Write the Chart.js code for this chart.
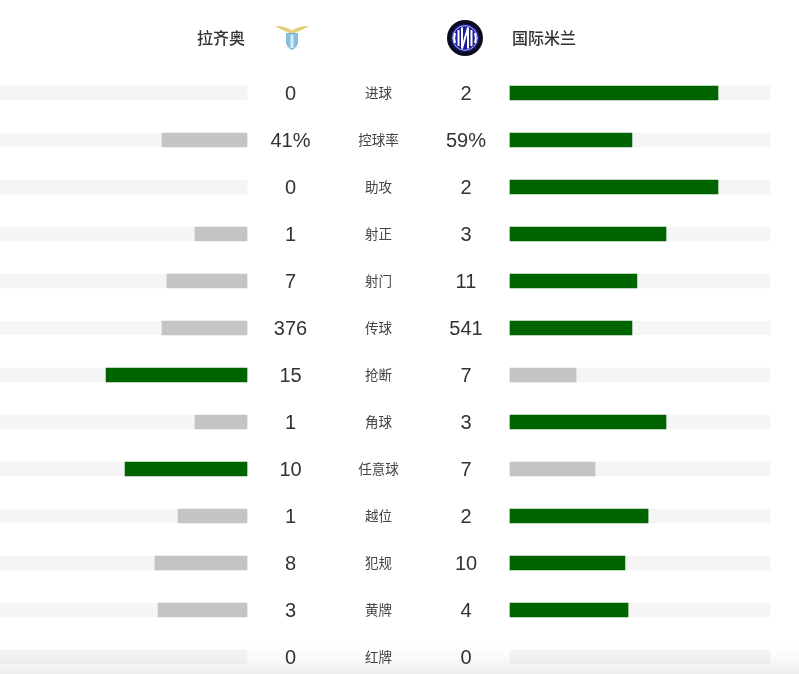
<!DOCTYPE html>
<html><head><meta charset="utf-8">
<script src="https://cdn.jsdelivr.net/npm/chart.js@4"></script>
<style>
html,body{margin:0;padding:0;background:#fff;overflow:hidden;width:799px;height:674px}
#wrap{position:relative;width:799px;height:674px;overflow:hidden;background:#fff}
#wrap canvas{position:absolute;left:0;top:0}
.logo{position:absolute}
#fade{position:absolute;left:0;right:0;bottom:0;height:28px;background:linear-gradient(to bottom,#fff,#fafafa 45%,#ededed);mix-blend-mode:multiply;pointer-events:none}
</style></head><body>
<div id="wrap">
<div style="position:absolute;left:0;top:0;width:799px;height:700px"><canvas id="c" width="799" height="700"></canvas></div>
<svg class="logo" style="left:272px;top:22px" width="40" height="32" viewBox="0 0 40 32">
<path d="M3 4C9 3.500 15 5 20 8.500 25 5 31 3.500 37 4 33 6.500 28 9 23.500 10.500L20 12.500 16.500 10.500C12 9 7 6.500 3 4Z" fill="#e6cf7c"/>
<path d="M14.500 11.500H25.500V20C25.500 23.500 23 26 20 27.500 17 26 14.500 23.500 14.500 20Z" fill="#86c0e4" stroke="#5f9fc9" stroke-width=".7"/>
<path d="M18.500 12.500H21.500V26H18.500Z" fill="#d8ebf6"/>
</svg>
<svg class="logo" style="left:447px;top:20px" width="36" height="36" viewBox="0 0 36 36">
<circle cx="18" cy="18" r="18" fill="#0b0b1c"/>
<circle cx="18" cy="18" r="14" fill="#1c1c96"/>
<ellipse cx="18" cy="18" rx="12.300" ry="12.300" fill="none" stroke="#d8d8ee" stroke-width=".8"/>
<path d="M8 13C7 16 7 20 8 23M28 13C29 16 29 20 28 23M11.500 10V26M24.500 10V26M15 7.500V28.500L21 7.500V28.500" fill="none" stroke="#fff" stroke-width="2"/>
</svg>
<div id="fade"></div>
</div>
<script>
const categories=['进球','控球率','助攻','射正','射门','传球','抢断','角球','任意球','越位','犯规','黄牌','红牌'];
const homeLabels=['0','41%','0','1','7','376','15','1','10','1','8','3','0'];
const awayLabels=['2','59%','2','3','11','541','7','3','7','2','10','4','0'];
const homeBars=[null,32.7,null,20,30.8,32.7,54.2,20,46.9,26.5,35.4,34.2,null];
const awayBars=[80,46.9,80,60,48.8,46.9,25.4,60,32.7,53.1,44.2,45.4,null];
const trackValues=[100,100,100,100,100,100,100,100,100,100,100,100,100];
const homeTeam='拉齐奥', awayTeam='国际米兰';
const GREEN='#006400', GREY='#c4c4c4', TRACK='#f5f5f5';
const isHomeLead=homeBars.map((v,i)=>(v||0)>(awayBars[i]||0));
const homeColors=isHomeLead.map(l=>l?GREEN:GREY);
const awayColors=isHomeLead.map(l=>l?GREY:GREEN);
const PX=2.6, W=799, ZERO_H=247, ZERO_A=510;
const textPlugin={id:'rowText',afterDatasetsDraw(chart){
  const {ctx}=chart,y=chart.scales.y;
  ctx.save();ctx.textBaseline='middle';ctx.textAlign='center';
  categories.forEach((c,i)=>{
    const py=y.getPixelForValue(i);
    ctx.fillStyle='#333';ctx.font='20px "Liberation Sans",Arial,sans-serif';
    ctx.fillText(homeLabels[i],290.5,py+1);
    ctx.fillText(awayLabels[i],466,py+1);
    ctx.fillStyle='#444';ctx.font='13.500px "Noto Sans CJK SC",sans-serif';
    ctx.fillText(c,378.5,py-0.5);
  });
  ctx.font='500 16px "Noto Sans CJK SC",sans-serif';ctx.fillStyle='#333';
  ctx.textAlign='right';ctx.fillText(homeTeam,245,38);
  ctx.textAlign='left';ctx.fillText(awayTeam,512,38);
  ctx.restore();
}};
new Chart(document.getElementById('c'),{
  type:'bar',
  data:{labels:categories,datasets:[
    {data:homeBars,xAxisID:'xH',backgroundColor:homeColors,order:1},
    {data:awayBars,xAxisID:'xA',backgroundColor:awayColors,order:1},
    {data:trackValues,xAxisID:'xH',backgroundColor:TRACK,order:2},
    {data:trackValues,xAxisID:'xA',backgroundColor:TRACK,order:2}
  ]},
  plugins:[textPlugin],
  options:{
    indexAxis:'y',responsive:false,animation:false,
    layout:{padding:{top:69.5,bottom:19.5,left:0,right:0}},
    plugins:{legend:{display:false},tooltip:{enabled:false}},
    datasets:{bar:{grouped:false,barThickness:14,borderWidth:0,borderSkipped:false}},
    scales:{
      y:{type:'category',display:false,grid:{display:false}},
      xH:{type:'linear',display:false,reverse:true,min:(ZERO_H-W)/PX,max:ZERO_H/PX,grid:{display:false}},
      xA:{type:'linear',display:false,min:-ZERO_A/PX,max:(W-ZERO_A)/PX,grid:{display:false}}
    }
  }
});
</script>
</body></html>
